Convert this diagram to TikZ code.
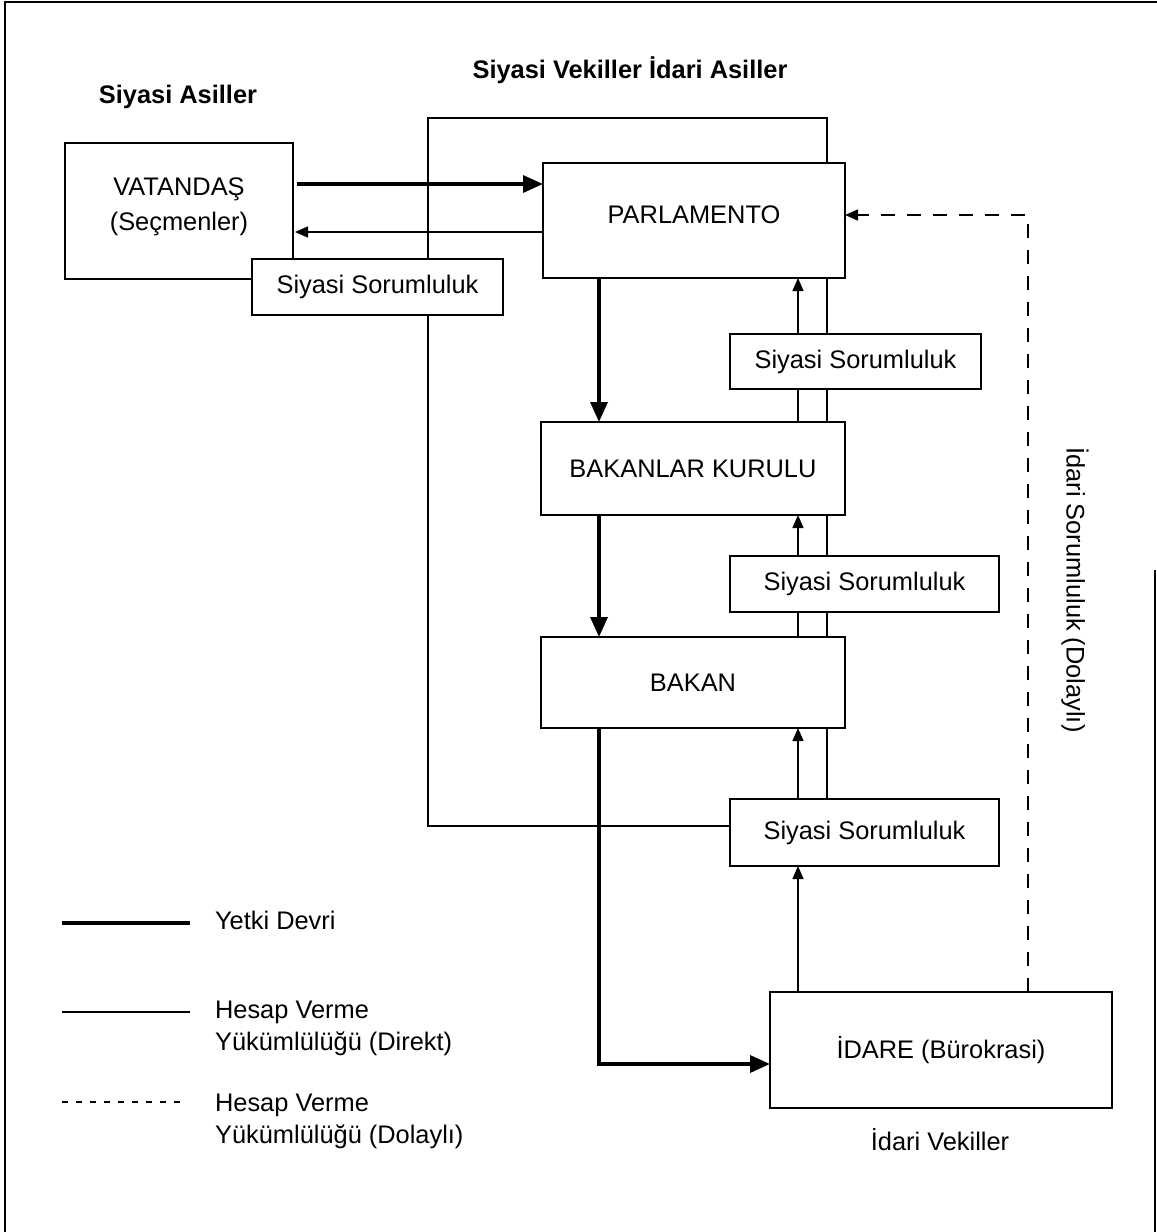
\documentclass[tikz,border=0pt]{standalone}
\usepackage{fontspec}
\setmainfont{Liberation Sans}
\usetikzlibrary{arrows.meta}
\begin{document}
\begin{tikzpicture}[x=0.5pt,y=-0.5pt,
  font=\fontsize{12.7}{17.5}\selectfont,
  box/.style={draw,line width=0.7pt,fill=white,inner sep=0pt,outer sep=0pt,align=center},
  ssbox/.style={box},
  strong/.style={line width=1.7pt,-{Triangle[length=10pt,width=8.5pt]}},
  strongline/.style={line width=1.7pt},
  thin/.style={line width=0.7pt},
  thinarrow/.style={line width=0.7pt,-{Triangle[length=6.5pt,width=5.5pt]}},
  dashedarrow/.style={line width=0.8pt,dash pattern=on 7pt off 6pt,-{Triangle[length=6.5pt,width=5.5pt]}},
  ttl/.style={font=\fontsize{12.7}{15}\selectfont\bfseries}
]
\useasboundingbox (0,0) rectangle (1157,1232);
% frame
\draw[line width=1pt] (5,1232) -- (5,2) -- (1157,2);
\draw[line width=1pt] (1155,570) -- (1155,1232);

% titles
\node[ttl] (t1) at (178,97) {Siyasi Asiller};
\node[ttl] (t2) at (630,70) {Siyasi Vekiller İdari Asiller};

% coordinates
\coordinate (xL) at (599,0);
\coordinate (xA) at (798,0);
\coordinate (xB) at (827,0);
\coordinate (xD) at (1028,0);
\coordinate (xLoop) at (428,0);
\coordinate (yTop) at (0,118);
\coordinate (yLoop) at (0,826);
\coordinate (yD) at (0,215);
\coordinate (y1) at (0,184);
\coordinate (y2) at (0,232);
\coordinate (yI) at (0,1064);

% main boxes
\node[box,minimum width=151pt,minimum height=57.5pt,
  label={[name=parlt,yshift=3pt]center:PARLAMENTO}] (parl) at (694,220.5) {};
\node[box,minimum width=152pt,minimum height=46.5pt] (bk) at (693,468.5) {BAKANLAR KURULU};
\node[box,minimum width=152pt,minimum height=45.5pt] (bakan) at (693,682.5) {BAKAN};
\node[ssbox,minimum width=125.5pt,minimum height=27.5pt] (ss2) at (855.5,361.5) {Siyasi Sorumluluk};
\node[ssbox,minimum width=134.5pt,minimum height=28pt] (ss3) at (864.5,584) {Siyasi Sorumluluk};
\node[ssbox,minimum width=134.5pt,minimum height=33.5pt] (ss4) at (864.5,832.5) {Siyasi Sorumluluk};
\node[box,minimum width=171pt,minimum height=58pt] (idare) at (941,1050) {İDARE (Bürokrasi)};
\node[box,minimum width=114pt,minimum height=68pt,
  label={[name=vatt,align=center,yshift=2pt]center:VATANDAŞ\\(Seçmenler)}] (vat) at (179,211) {};

% loop line (direct accountability from bottom box back to parliament)
\draw[thin] (ss4.west |- yLoop) -- (xLoop |- yLoop) -- (xLoop |- yTop) -- (xB |- yTop) -- (parl.north -| xB);

% box over loop line
\node[ssbox,minimum width=125.5pt,minimum height=28pt] (ss1) at (377.5,287) {Siyasi Sorumluluk};

% citizen <-> parliament
\draw[strong] ([xshift=2pt]vat.east |- y1) -- (parl.west |- y1);
\draw[thinarrow] (parl.west |- y2) -- ([xshift=1pt]vat.east |- y2);

% delegation chain
\draw[strong] (parl.south -| xL) -- (bk.north -| xL);
\draw[strong] (bk.south -| xL) -- (bakan.north -| xL);
\draw[strong] (bakan.south -| xL) -- (xL |- yI) -- (idare.west |- yI);

% accountability column
\draw[thinarrow] (ss2.north -| xA) -- (parl.south -| xA);
\draw[thin] (ss2.north -| xB) -- (parl.south -| xB);
\draw[thin] (bk.north -| xA) -- (ss2.south -| xA);
\draw[thin] (bk.north -| xB) -- (ss2.south -| xB);
\draw[thinarrow] (ss3.north -| xA) -- (bk.south -| xA);
\draw[thin] (ss3.north -| xB) -- (bk.south -| xB);
\draw[thin] (bakan.north -| xA) -- (ss3.south -| xA);
\draw[thin] (bakan.north -| xB) -- (ss3.south -| xB);
\draw[thinarrow] (ss4.north -| xA) -- (bakan.south -| xA);
\draw[thin] (ss4.north -| xB) -- (bakan.south -| xB);
\draw[thinarrow] (idare.north -| xA) -- (ss4.south -| xA);

% indirect accountability
\draw[dashedarrow] (idare.north -| xD) -- (xD |- yD) -- (parl.east |- yD);
\node[rotate=-90] (idsor) at (1075,590) {İdari Sorumluluk (Dolaylı)};

\node (idv) at (940,1140) {İdari Vekiller};

% legend
\coordinate (l1a) at (62,923);
\coordinate (l1b) at (190,923);
\coordinate (l2a) at (62,1012);
\coordinate (l2b) at (190,1012);
\coordinate (l3a) at (62,1102);
\coordinate (l3b) at (185,1102);
\draw[strongline] (l1a) -- (l1b);
\draw[thin] (l2a) -- (l2b);
\draw[line width=0.6pt,dash pattern=on 3pt off 4pt] (l3a) -- (l3b);
\node[anchor=west] (lg1) at (208,920) {Yetki Devri};
\node[anchor=west,align=left,font=\fontsize{12.7}{16}\selectfont] (lg2) at (208,1028) {Hesap Verme\\Yükümlülüğü (Direkt)};
\node[anchor=west,align=left,font=\fontsize{12.7}{16}\selectfont] (lg3) at (208,1121) {Hesap Verme\\Yükümlülüğü (Dolaylı)};
\end{tikzpicture}
\end{document}
